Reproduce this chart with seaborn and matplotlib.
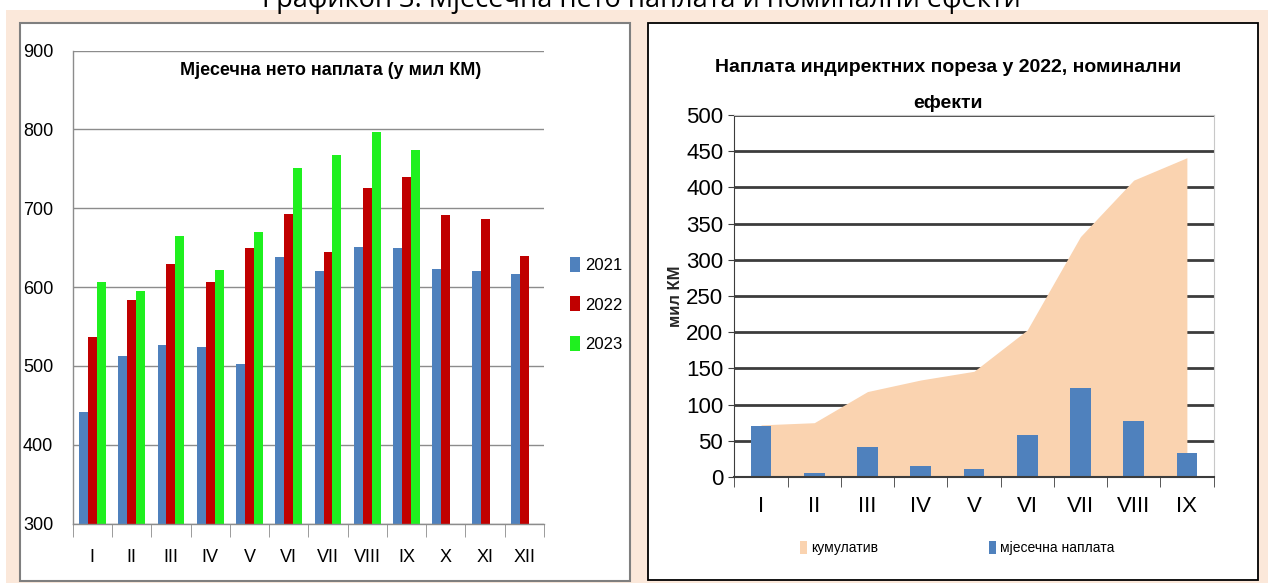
import numpy as np
import pandas as pd
import matplotlib.pyplot as plt
from matplotlib.patches import Rectangle, Patch
import seaborn as sns

# monthly net collection, mil KM
months = ['I', 'II', 'III', 'IV', 'V', 'VI', 'VII', 'VIII', 'IX', 'X', 'XI', 'XII']
years = ['2021', '2022', '2023']
net_2021 = [441, 513, 526, 524, 502, 638, 620, 651, 649, 623, 620, 617]
net_2022 = [536, 583, 629, 606, 649, 692, 645, 725, 739, 691, 686, 639]
net_2023 = [606, 595, 665, 622, 670, 751, 768, 797, 774, np.nan, np.nan, np.nan]

# indirect taxes 2022, nominal effects
months_2022 = months[:9]
monthly_2022 = [70, 5, 42, 15, 11, 58, 123, 77, 33]
cumulative_2022 = [72, 75, 118, 134, 146, 203, 332, 410, 441]

W, H = 1271, 583
beige = '#fbe8da'
blue = '#4f81bd'
red = '#c00000'
green = '#1ff01f'
peach = '#fad3b0'

sns.set_style('white')
plt.rcParams['font.family'] = ['Liberation Sans', 'DejaVu Sans']
plt.rcParams['text.color'] = 'black'
plt.rcParams['xtick.color'] = 'black'
plt.rcParams['ytick.color'] = 'black'


def fx(px):
    return px / W


def fy(py):
    return 1 - py / H


fig = plt.figure(figsize=(W / 100, H / 100), dpi=100)

# page background and panels
fig.patches.append(Rectangle((fx(6), 0), fx(1268) - fx(6), fy(9.5), transform=fig.transFigure,
                             facecolor=beige, edgecolor='none', zorder=-10))
fig.patches.append(Rectangle((fx(20), fy(581)), fx(630) - fx(20), fy(23) - fy(581), transform=fig.transFigure,
                             facecolor='white', edgecolor='#7f7f7f', lw=1.5, zorder=-9))
fig.patches.append(Rectangle((fx(648), fy(580)), fx(1258) - fx(648), fy(23) - fy(580), transform=fig.transFigure,
                             facecolor='white', edgecolor='black', lw=1.3, zorder=-9))

# page caption, cut at the top edge as in the source
fig.text(fx(641), fy(7.5), 'Графикон 3: Мјесечна нето наплата и номинални ефекти', ha='center', va='baseline',
         fontsize=19.5, family=['Open Sans', 'DejaVu Sans'], color='black')

# ---- left chart
df = pd.DataFrame({'month': months * 3,
                   'year': np.repeat(years, 12),
                   'value': net_2021 + net_2022 + net_2023})

ax1 = fig.add_axes([fx(72.7), fy(523.5), fx(544) - fx(72.7), fy(50.5) - fy(523.5)])
ax1.patch.set_alpha(0)
sns.barplot(data=df, x='month', y='value', hue='year', palette=[blue, red, green], width=0.68,
            saturation=1, linewidth=0, edgecolor='none', ax=ax1, legend=False)
ax1.set_ylim(300, 900)
ax1.set_yticks(range(300, 901, 100))
ax1.set_axisbelow(True)
ax1.yaxis.grid(True, color='#8c8c8c', lw=1)
ax1.set_xlabel('')
ax1.set_ylabel('')
for s in ['top', 'right']:
    ax1.spines[s].set_visible(False)
for s in ['left', 'bottom']:
    ax1.spines[s].set_color('#8c8c8c')
    ax1.spines[s].set_linewidth(1)
ax1.set_xticks(np.arange(-0.5, 12, 1), minor=True)
ax1.tick_params(axis='x', which='major', length=0, pad=18, labelsize=13)
ax1.tick_params(axis='x', which='minor', length=9, color='#8c8c8c', direction='out', bottom=True)
ax1.tick_params(axis='y', length=0, pad=14, labelsize=13)
ax1.text(0.548, 0.975, 'Мјесечна нето наплата (у мил КМ)', transform=ax1.transAxes, ha='center', va='top',
         fontsize=13, fontweight='bold')

handles = [Patch(facecolor=c, edgecolor='none') for c in [blue, red, green]]
fig.legend(handles, years, loc='upper left', bbox_to_anchor=(fx(570), fy(257)), frameon=False,
           fontsize=12, handlelength=0.6, handleheight=1.0, handletextpad=0.3, labelspacing=1.4,
           borderpad=0, borderaxespad=0)

# ---- right chart
ax2 = fig.add_axes([fx(734.4), fy(477), fx(1213.5) - fx(734.4), fy(115) - fy(477)])
ax2.patch.set_alpha(0)
ax2.fill_between(np.arange(len(months_2022)), cumulative_2022, color=peach, lw=0, zorder=1)
sns.barplot(x=months_2022, y=monthly_2022, color=blue, saturation=1, width=0.39, linewidth=0,
            edgecolor='none', ax=ax2, zorder=2)
ax2.set_ylim(0, 500)
ax2.set_xlim(-0.5, 8.5)
ax2.set_yticks(range(0, 501, 50))
ax2.set_axisbelow(True)
ax2.yaxis.grid(True, color='#3c3c3c', lw=2)
for s in ['top', 'right']:
    ax2.spines[s].set_color('#c8c8c8')
ax2.spines['left'].set_color('#3c3c3c')
ax2.spines['bottom'].set_color('#3c3c3c')
ax2.spines['bottom'].set_linewidth(1.5)
ax2.set_xticks(np.arange(-0.5, 9, 1), minor=True)
ax2.tick_params(axis='x', which='major', length=0, pad=14, labelsize=16)
ax2.tick_params(axis='x', which='minor', length=7, color='#3c3c3c', direction='out', bottom=True)
ax2.tick_params(axis='y', length=4, color='#3c3c3c', direction='out', left=True, pad=4, labelsize=16)
ax2.set_ylabel('мил КМ', fontsize=12, fontweight='bold', labelpad=2)
fig.text(fx(948), fy(67), 'Наплата индиректних пореза у 2022, номинални', ha='center', va='center',
         fontsize=14, fontweight='bold')
fig.text(fx(948), fy(103), 'ефекти', ha='center', va='center', fontsize=14, fontweight='bold')

fig.legend([Patch(facecolor=peach, edgecolor='none'), Patch(facecolor=blue, edgecolor='none')],
           ['кумулатив', 'мјесечна наплата'], loc='center left', bbox_to_anchor=(fx(800), fy(548)),
           ncol=2, frameon=False, fontsize=10, handlelength=0.5, handleheight=1.1, handletextpad=0.3,
           columnspacing=8.0, borderpad=0, borderaxespad=0)

fig.savefig('out.png', dpi=100)
